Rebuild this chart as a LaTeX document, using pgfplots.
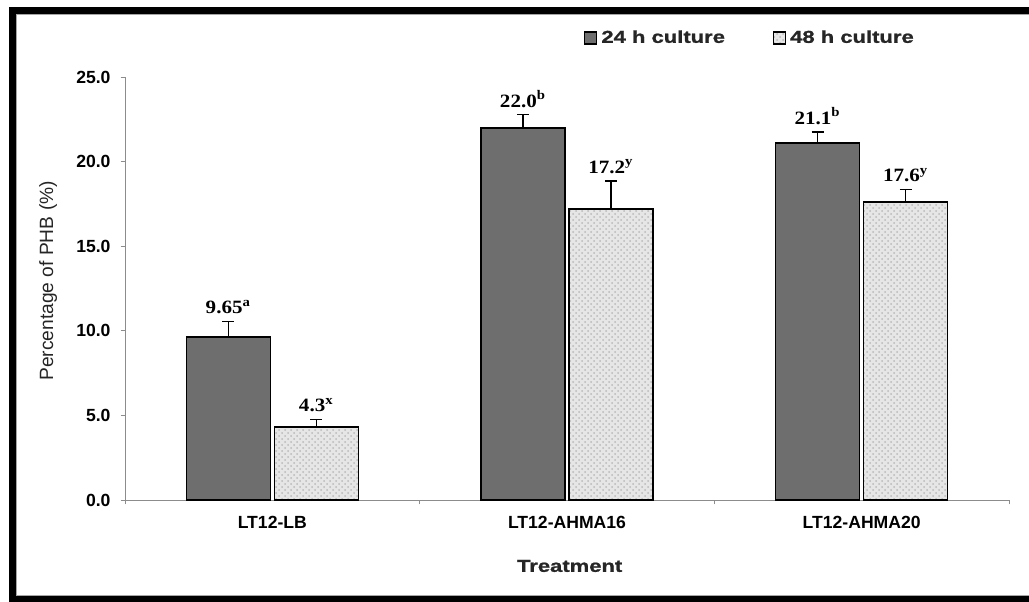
\documentclass[border=0pt]{standalone}
\usepackage{fontspec}
\setmainfont{Liberation Sans}
\newfontfamily\widefont[FakeStretch=1.28, BoldFeatures={FakeBold=1.2}]{Liberation Sans}
\newfontfamily\valfont[FakeStretch=1.12]{Liberation Serif}
\usepackage{pgfplots}
\usepackage{pgfplotstable}
\pgfplotsset{compat=1.18}
\usetikzlibrary{patterns}

\definecolor{darkbar}{HTML}{6E6E6E}
\definecolor{lightbar}{HTML}{E6E6E6}
\definecolor{axisgray}{HTML}{8C8C8C}

% PHB content (%) after 24 h culture
\pgfplotstableread{
x y err label
0 9.65 0.90 {9.65\textsuperscript{a}}
1 22.0 0.77 {22.0\textsuperscript{b}}
2 21.1 0.65 {21.1\textsuperscript{b}}
}\cultureA

% PHB content (%) after 48 h culture
\pgfplotstableread{
x y err label
0 4.3 0.45 {4.3\textsuperscript{x}}
1 17.2 1.65 {17.2\textsuperscript{y}}
2 17.6 0.75 {17.6\textsuperscript{y}}
}\cultureB

\begin{document}
\begin{tikzpicture}
\useasboundingbox (0,0) rectangle (514.5pt,300.5pt);

\begin{axis}[
  at={(62.5pt,50.5pt)}, anchor=south west,
  scale only axis,
  width=442pt, height=211.5pt,
  xmin=-0.5, xmax=2.5,
  ymin=0, ymax=25,
  axis x line*=bottom,
  axis y line*=left,
  axis line style={axisgray, line width=0.5pt},
  ybar, bar width=42pt,
  ytick={0,5,10,15,20,25},
  /pgf/number format/.cd, fixed, fixed zerofill, precision=1, assume math mode=true,
  /pgfplots/.cd,
  yticklabel style={font=\bfseries\fontsize{8.8}{10}\selectfont, xshift=-1.5pt},
  ytick style={axisgray, line width=0.5pt},
  major tick length=2.2pt,
  tick align=outside,
  xtick={0,1,2},
  xticklabels={LT12-LB, LT12-AHMA16, LT12-AHMA20},
  xticklabel style={font=\bfseries\fontsize{8.8}{10}\selectfont, yshift=-2.5pt},
  xtick style={draw=none},
  extra x ticks={-0.5,0.5,1.5,2.5},
  extra x tick labels={},
  extra x tick style={xtick style={draw=axisgray, line width=0.5pt}},
  ylabel={Percentage of PHB (\%)},
  ylabel style={at={(axis description cs:-0.087,0.518)}, anchor=center,
    font=\fontsize{9.6}{11}\selectfont, text=black!85},
  xlabel={Treatment},
  xlabel style={at={(axis description cs:0.503,-0.156)}, anchor=center,
    font=\widefont\bfseries\fontsize{8.6}{11}\selectfont, text=black!85},
  legend style={at={(axis description cs:0.519,1.092)}, anchor=west,
    draw=none, fill=none, inner sep=0pt,
    font=\widefont\bfseries\fontsize{8.6}{10}\selectfont, text=black!85,
    /tikz/every even column/.append style={column sep=22pt}},
  legend columns=2,
  legend image code/.code={\draw[#1, draw=black, line width=0.6pt] (0pt,-3pt) rectangle (6pt,3pt);},
  error bars/y dir=plus,
  error bars/y explicit,
  error bars/error mark options={rotate=90, mark size=3pt, black, line width=0.6pt},
  error bars/error bar style={black, line width=0.6pt},
  visualization depends on={\thisrow{err} \as \errval},
  nodes near coords,
  point meta=explicit symbolic,
  every node near coord/.append style={
    anchor=south, shift={(axis direction cs:0,\errval)},
    font=\valfont\bfseries\fontsize{9.4}{10}\selectfont, text=black},
]
\addplot[fill=darkbar, draw=black, line width=0.8pt]
  table[x=x, y=y, y error=err, meta=label] {\cultureA};
\addlegendentry{24 h culture}
\addplot[fill=lightbar, draw=black, line width=0.8pt,
  postaction={pattern=crosshatch dots, pattern color=gray!55}]
  table[x=x, y=y, y error=err, meta=label] {\cultureB};
\addlegendentry{48 h culture}
\end{axis}

% outer frame
\draw[black, line width=3.5pt] (600pt,295.25pt) -- (6.25pt,295.25pt) -- (6.25pt,1pt) -- (600pt,1pt);
\draw[gray!70, line width=0.5pt] (600pt,293.2pt) -- (8.3pt,293.2pt) -- (8.3pt,3pt) -- (600pt,3pt);
\end{tikzpicture}
\end{document}
